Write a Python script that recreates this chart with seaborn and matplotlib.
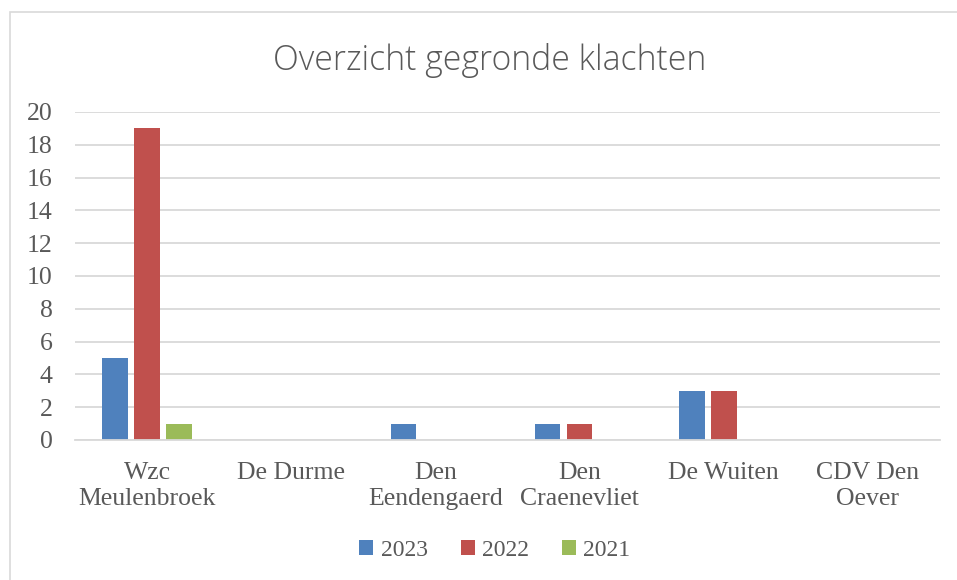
import pandas as pd
import matplotlib.pyplot as plt
import seaborn as sns
from matplotlib.patches import Rectangle

# Data
locations = ["Wzc\nMeulenbroek", "De Durme", "Den\nEendengaerd",
             "Den\nCraenevliet", "De Wuiten", "CDV Den\nOever"]
years = ["2023", "2022", "2021"]
klachten_2023 = [5, 0, 1, 1, 3, 0]
klachten_2022 = [19, 0, 0, 1, 3, 0]
klachten_2021 = [1, 0, 0, 0, 0, 0]
colors = ["#4F81BD", "#C0504D", "#9BBB59"]

# Build long table for seaborn
df = pd.DataFrame({
    "locatie": locations * 3,
    "jaar": [y for y in years for _ in locations],
    "aantal": klachten_2023 + klachten_2022 + klachten_2021,
})

text_color = "#595959"
grid_color = "#D9D9D9"

sns.set_style("white")
fig = plt.figure(figsize=(9.57, 5.8), dpi=100)

# light chart border like the office chart frame
fig.patches.append(Rectangle((10 / 957, -0.1), 1.2, 1 - 12 / 580 + 0.1,
                             transform=fig.transFigure, fill=False,
                             edgecolor="#D9D9D9", linewidth=1.2))

ax = fig.add_axes([75 / 957, 1 - 440 / 580, 865 / 957, 328 / 580])
sns.barplot(data=df, x="locatie", y="aantal", hue="jaar", hue_order=years,
            palette=colors, width=0.667, gap=0.2, saturation=1,
            edgecolor="none", ax=ax)

ax.set_ylim(0, 20)
ax.set_yticks(range(0, 21, 2))
ax.yaxis.grid(True, color=grid_color, linewidth=1.3)
ax.set_axisbelow(True)
for side in ["top", "right", "left"]:
    ax.spines[side].set_visible(False)
ax.spines["bottom"].set_color(grid_color)
ax.spines["bottom"].set_linewidth(1.3)
ax.set_xlabel("")
ax.set_ylabel("")
ax.tick_params(axis="both", length=0, colors=text_color)
ax.tick_params(axis="y", pad=16)
ax.tick_params(axis="x", pad=16)
for lbl in ax.get_xticklabels() + ax.get_yticklabels():
    lbl.set_fontfamily("Liberation Serif")
    lbl.set_fontsize(18.5)
    lbl.set_color(text_color)
for lbl in ax.get_xticklabels():
    lbl.set_linespacing(1.25)

fig.text(0.512, 1 - 60 / 580, "Overzicht gegronde klachten", ha="center",
         va="center", fontsize=24.3, color=text_color, family="Open Sans",
         fontweight="light")

handles, labels = ax.get_legend_handles_labels()
ax.legend_.remove()
fig.legend(handles, labels, loc="center", bbox_to_anchor=(0.517, 1 - 550 / 580),
           ncol=3, frameon=False, handlelength=0.6, handleheight=0.6,
           handletextpad=0.3, columnspacing=1.4,
           prop={"family": "Liberation Serif", "size": 17},
           labelcolor=text_color)

fig.savefig("out.png", dpi=100)
